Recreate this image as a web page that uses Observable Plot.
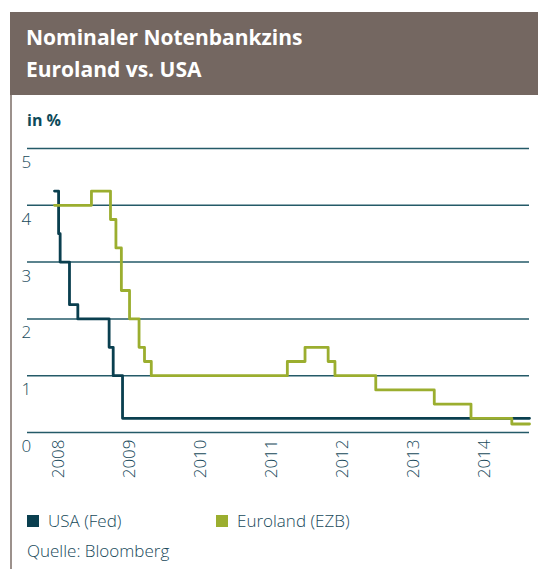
<!DOCTYPE html>
<html>
<head>
<meta charset="utf-8">
<script src="https://cdn.jsdelivr.net/npm/d3@7"></script>
<script src="https://cdn.jsdelivr.net/npm/@observablehq/plot@0.6"></script>
<style>
  html, body { margin: 0; padding: 0; background: #fff; }
  #wrap { position: relative; width: 538px; height: 569px; overflow: hidden; font-family: "Open Sans", sans-serif; color: #17495a; }
  #titlebox { position: absolute; left: 10px; top: 12px; width: 528px; height: 83px; background: #746761; }
  #title { position: absolute; left: 26px; top: 21px; color: #fff; font-weight: 700; font-size: 21px; line-height: 32px; }
  #border { position: absolute; left: 10px; top: 95px; width: 2px; height: 474px; background: #9c918c; }
  #unit { position: absolute; left: 27px; top: 109px; font-weight: 700; font-size: 16px; color: #0d4a5a; }
  #chart { position: absolute; left: 0; top: 100px; }
  .leg { position: absolute; top: 509px; font-size: 17px; font-weight: 300; display: flex; align-items: center; line-height: 24px; }
  .sw { width: 12px; height: 12px; display: inline-block; margin-right: 9px; }
  #source { position: absolute; left: 27px; top: 539px; font-size: 17px; font-weight: 300; line-height: 24px; }
</style>
</head>
<body>
<div id="wrap">
  <div id="titlebox"></div>
  <div id="title">Nominaler Notenbankzins<br>Euroland vs. USA</div>
  <div id="border"></div>
  <div id="unit">in %</div>
  <div id="chart"></div>
  <div class="leg" style="left:27px"><span class="sw" style="background:#0a3f4f"></span>USA (Fed)</div>
  <div class="leg" style="left:216px"><span class="sw" style="background:#9bae2f"></span>Euroland (EZB)</div>
  <div id="source">Quelle: Bloomberg</div>
</div>
<script>
const usaDates = ["2008-01-01","2008-01-22","2008-01-30","2008-03-18","2008-04-30","2008-10-08","2008-10-29","2008-12-16","2014-09-10"];
const usaRates = [4.25, 3.50, 3.00, 2.25, 2.00, 1.50, 1.00, 0.25, 0.25];

const euroDates = ["2008-01-01","2008-07-09","2008-10-15","2008-11-12","2008-12-10","2009-01-21","2009-03-11","2009-04-08","2009-05-13","2011-04-13","2011-07-13","2011-11-09","2011-12-14","2012-07-11","2013-05-08","2013-11-13","2014-06-11","2014-09-10"];
const euroRates = [4.00, 4.25, 3.75, 3.25, 2.50, 2.00, 1.50, 1.25, 1.00, 1.25, 1.50, 1.25, 1.00, 0.75, 0.50, 0.25, 0.15, 0.15];

const yTicks = [0, 1, 2, 3, 4, 5];
const yearTicks = ["2008","2009","2010","2011","2012","2013","2014"];
const xDomain = ["2007-08-15", "2014-09-10"];

const parse = d3.utcParse("%Y-%m-%d");
const usa = usaDates.map((d, i) => ({date: parse(d), rate: usaRates[i]}));
const euro = euroDates.map((d, i) => ({date: parse(d), rate: euroRates[i]}));
const yearDates = yearTicks.map(y => d3.utcParse("%Y")(y));

const textColor = "#17495a";

const chart = Plot.plot({
  width: 538,
  height: 380,
  marginLeft: 27,
  marginRight: 9,
  marginTop: 48,
  marginBottom: 48,
  style: {fontFamily: "'Open Sans', sans-serif", fontSize: "17px", color: textColor, fontWeight: 300, background: "transparent", overflow: "visible"},
  x: {type: "utc", domain: xDomain.map(parse)},
  y: {domain: [0, 5]},
  marks: [
    Plot.ruleY(yTicks, {stroke: "#245a68", strokeWidth: 1.5}),
    Plot.axisY({ticks: yTicks, tickFormat: "d", anchor: "left", tickSize: 0, textAnchor: "start", dx: 3, dy: 14, label: null, fill: textColor}),
    Plot.axisX({ticks: yearDates, tickFormat: d3.utcFormat("%Y"), tickRotate: -90, tickSize: 0, tickPadding: 7, dx: 4, label: null, fill: textColor}),
    Plot.line(usa, {x: "date", y: "rate", curve: "step-after", stroke: "#0a3f4f", strokeWidth: 2.8}),
    Plot.line(euro, {x: "date", y: "rate", curve: "step-after", stroke: "#9bae2f", strokeWidth: 2.8})
  ]
});
document.getElementById("chart").appendChild(chart);
</script>
</body>
</html>
